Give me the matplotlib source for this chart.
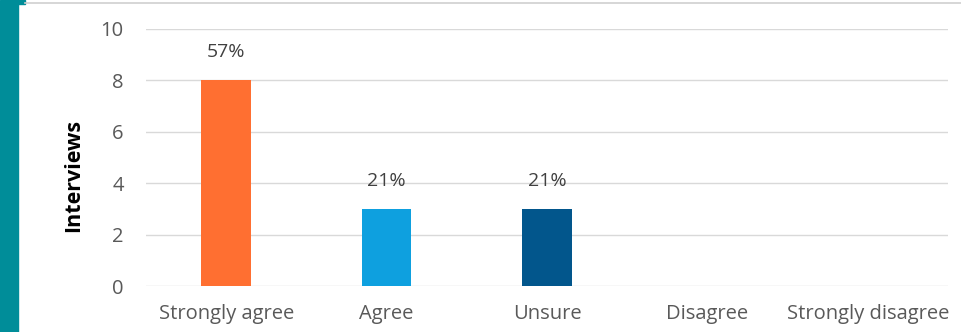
import matplotlib.pyplot as plt
import matplotlib.patches as mpatches

# data
categories = ["Strongly agree", "Agree", "Unsure", "Disagree", "Strongly disagree"]
interviews = [8, 3, 3, 0, 0]
pct_labels = ["57%", "21%", "21%", "", ""]
bar_colors = ["#FF6F31", "#0EA0DF", "#02568C", "#999999", "#999999"]

plt.rcParams['font.family'] = ['Open Sans', 'DejaVu Sans']

fig = plt.figure(figsize=(9.61, 3.32), dpi=100)
# teal strip at the left edge, thin line on top
fig.patches.append(mpatches.Rectangle((0, 0), 18/961, 1, transform=fig.transFigure,
                                      color="#008D99", zorder=0))
fig.patches.append(mpatches.Rectangle((18/961, 1 - 4/332), 7/961, 4/332, transform=fig.transFigure,
                                      color="#008D99", zorder=0))
fig.lines.append(plt.Line2D([25/961, 1], [1 - 3/332, 1 - 3/332], transform=fig.transFigure,
                            color="#CFCFCF", lw=1.2))

ax = fig.add_axes([146/961, 46/332, 802/961, 257/332])
x = range(len(categories))
bars = ax.bar(x, interviews, width=0.31, color=bar_colors, zorder=3)
for b, lab in zip(bars, pct_labels):
    if lab:
        ax.text(b.get_x() + b.get_width()/2, b.get_height() + 1.1, lab,
                ha="center", va="center", fontsize=14, color="#404040")

ax.set_xlim(-0.5, 4.5)
ax.set_ylim(0, 10)
ax.set_yticks([0, 2, 4, 6, 8, 10])
ax.set_xticks(list(x))
ax.set_xticklabels(categories)
ax.grid(axis="y", color="#D9D9D9", lw=1, zorder=0)
for s in ax.spines.values():
    s.set_visible(False)
ax.tick_params(length=0, labelsize=14.5, colors="#595959")
ax.tick_params(axis="y", pad=16)
ax.tick_params(axis="x", pad=13)
fig.text(74/961, 1 - 175/332, "Interviews", rotation=90, ha="center", va="center",
         fontsize=15.5, fontweight="bold", color="black")

plt.savefig("out.png", dpi=100)
